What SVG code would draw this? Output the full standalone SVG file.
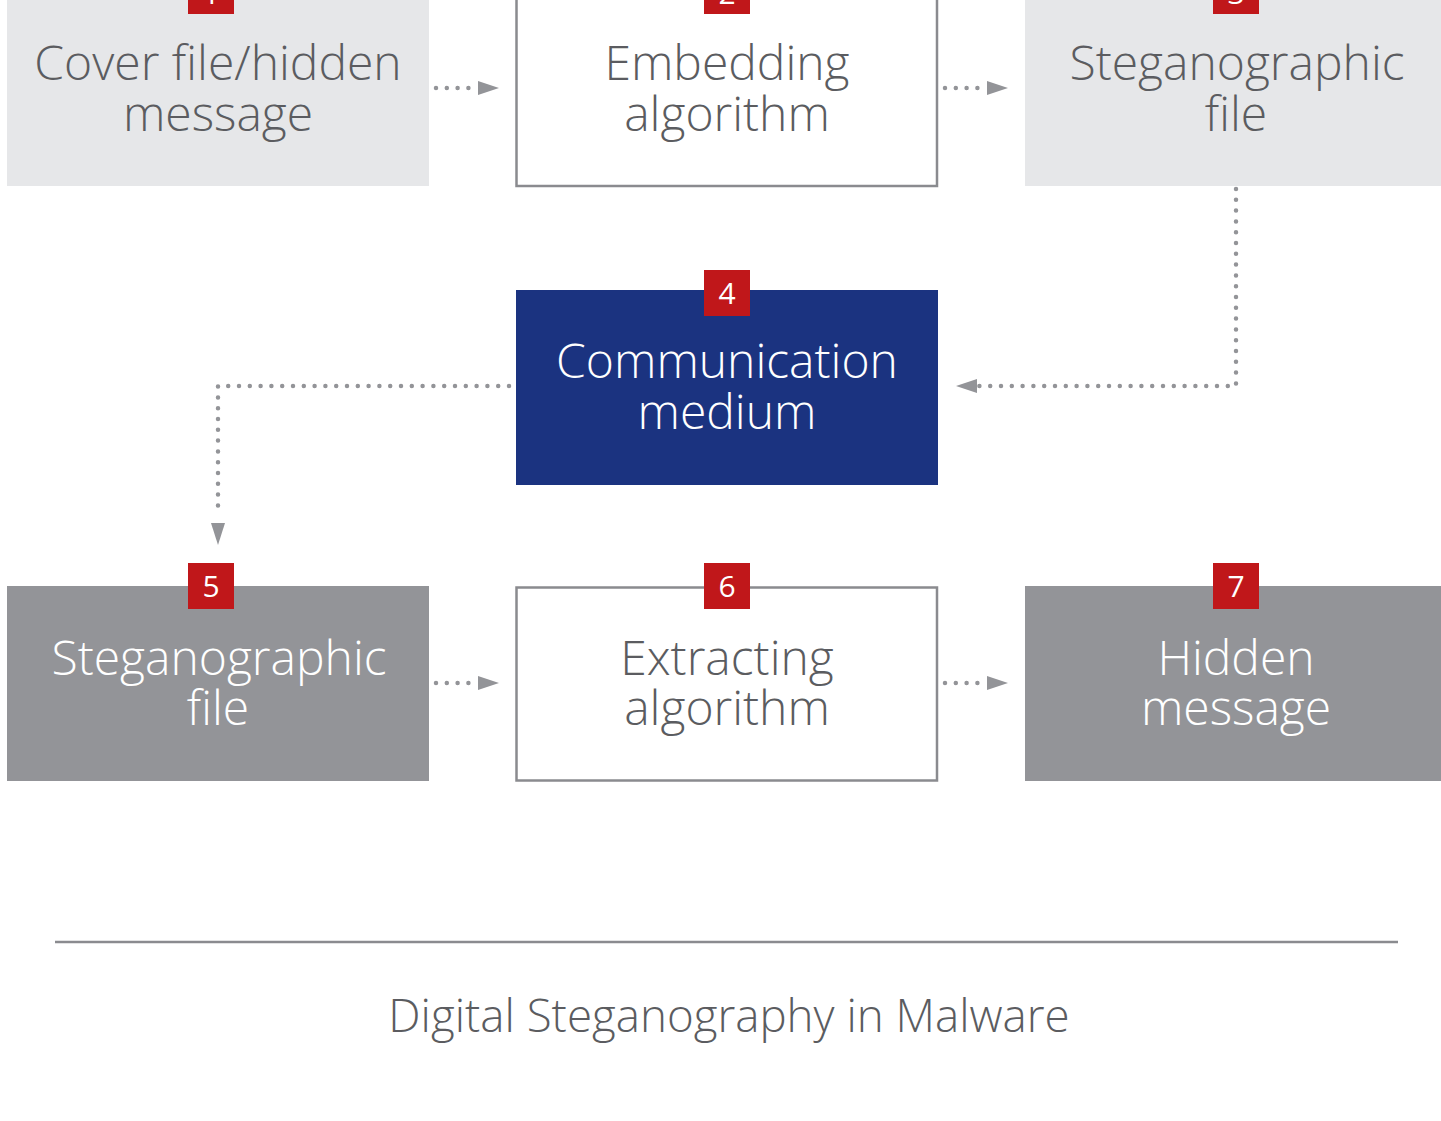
<svg xmlns="http://www.w3.org/2000/svg" width="1441" height="1121" viewBox="0 0 1441 1121">
<style>
.t{font-family:"Open Sans","Liberation Sans",sans-serif;font-weight:300;font-size:48px;text-anchor:middle}
.dk{fill:#5b5c60}
.wt{fill:#ffffff}
.light{fill:#e6e7e9}
.white{fill:#ffffff;stroke:#8a8b8f;stroke-width:2.5}
.gray{fill:#939498}
.blue{fill:#1b3380}
.badge{fill:#c0171a}
.bt{font-family:"Open Sans","Liberation Sans",sans-serif;font-size:30px;fill:#ffffff;text-anchor:middle}
.dot{fill:none;stroke:#939498;stroke-width:4.5;stroke-linecap:round;stroke-dasharray:0 10.8}
.ah{fill:#939498}
</style>
<rect width="1441" height="1121" fill="#ffffff"/>
<g id="node1">
<rect class="light" x="7" y="-9" width="422" height="195"/>
<rect class="badge" x="188" y="-32" width="46" height="46"/>
<text class="bt" x="211" y="4">1</text>
<text class="t dk" x="218" y="80">Cover file/hidden</text>
<text class="t dk" x="218" y="131">message</text>
</g>
<g id="node2">
<rect class="white" x="516.5" y="-9" width="420.5" height="195"/>
<rect class="badge" x="704" y="-32" width="46" height="46"/>
<text class="bt" x="727" y="4">2</text>
<text class="t dk" x="727" y="80">Embedding</text>
<text class="t dk" x="727" y="131">algorithm</text>
</g>
<g id="node3">
<rect class="light" x="1025" y="-9" width="416" height="195"/>
<rect class="badge" x="1213" y="-32" width="46" height="46"/>
<text class="bt" x="1236" y="4">3</text>
<text class="t dk" x="1237" y="80">Steganographic</text>
<text class="t dk" x="1236" y="131">file</text>
</g>
<g id="node4">
<rect class="blue" x="516" y="290" width="422" height="195"/>
<rect class="badge" x="704" y="270" width="46" height="46"/>
<text class="bt" x="727" y="304">4</text>
<text class="t wt" x="727" y="378">Communication</text>
<text class="t wt" x="727" y="429">medium</text>
</g>
<g id="node5">
<rect class="gray" x="7" y="586" width="422" height="195"/>
<rect class="badge" x="188" y="563" width="46" height="46"/>
<text class="bt" x="211" y="597">5</text>
<text class="t wt" x="219" y="675">Steganographic</text>
<text class="t wt" x="218" y="725">file</text>
</g>
<g id="node6">
<rect class="white" x="516.5" y="587.5" width="420.5" height="193"/>
<rect class="badge" x="704" y="563" width="46" height="46"/>
<text class="bt" x="727" y="597">6</text>
<text class="t dk" x="727" y="675">Extracting</text>
<text class="t dk" x="727" y="725">algorithm</text>
</g>
<g id="node7">
<rect class="gray" x="1025" y="586" width="416" height="195"/>
<rect class="badge" x="1213" y="563" width="46" height="46"/>
<text class="bt" x="1236" y="597">7</text>
<text class="t wt" x="1236" y="675">Hidden</text>
<text class="t wt" x="1236" y="725">message</text>
</g>
<g id="connectors">
<path class="dot" d="M436 88 H470"/>
<path class="ah" d="M478 81 L499 88 L478 95 Z"/>
<path class="dot" d="M945 88 H979"/>
<path class="ah" d="M987 81 L1008 88 L987 95 Z"/>
<path class="dot" d="M1236 189 V386 H979"/>
<path class="ah" d="M977 379 L956 386 L977 393 Z"/>
<path class="dot" d="M509 386 H218 V515"/>
<path class="ah" d="M211 523 L218 545 L225 523 Z"/>
<path class="dot" d="M436 683 H470"/>
<path class="ah" d="M478 676 L499 683 L478 690 Z"/>
<path class="dot" d="M945 683 H979"/>
<path class="ah" d="M987 676 L1008 683 L987 690 Z"/>
</g>
<line x1="55" y1="942" x2="1398" y2="942" stroke="#8a8b8f" stroke-width="2.5"/>
<text class="t dk" x="729" y="1032" style="font-size:45.7px">Digital Steganography in Malware</text>
</svg>
